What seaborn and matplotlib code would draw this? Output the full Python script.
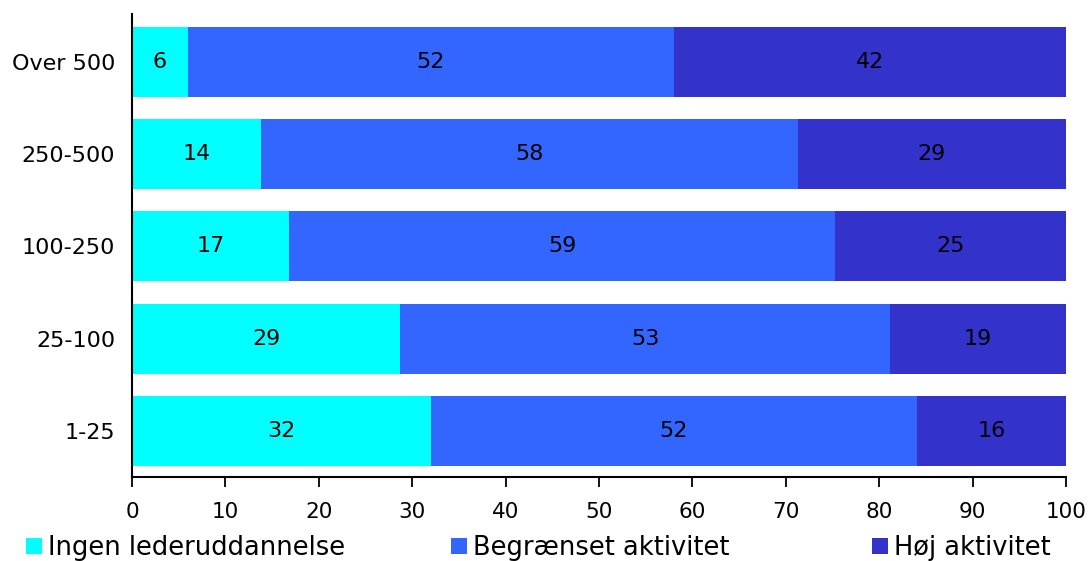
import numpy as np
import pandas as pd
import matplotlib
matplotlib.use("Agg")
import matplotlib.pyplot as plt
from matplotlib.patches import Patch
import seaborn as sns

# Company size groups, top to bottom
groups = ["Over 500", "250-500", "100-250", "25-100", "1-25"]
series_names = ["Ingen lederuddannelse", "Begrænset aktivitet", "Høj aktivitet"]
ingen = [6, 14, 17, 29, 32]
begraenset = [52, 58, 59, 53, 52]
hoej = [42, 29, 25, 19, 16]
colors = ["#00FFFF", "#3366FF", "#3333CC"]
x_ticks = list(range(0, 101, 10))

sns.set_style("white")
plt.rcParams["font.family"] = ["DejaVu Sans"]
plt.rcParams["text.color"] = "black"
plt.rcParams["xtick.color"] = "black"
plt.rcParams["ytick.color"] = "black"

vals = np.array([ingen, begraenset, hoej], dtype=float)
shares = vals / vals.sum(axis=0) * 100  # each bar spans 100 %
cum = np.cumsum(shares, axis=0)

df = pd.DataFrame({"group": groups})
for i in range(3):
    df[f"cum{i}"] = cum[i]

fig = plt.figure(figsize=(10.9, 5.61), dpi=100)
ax = fig.add_axes([132 / 1090, 1 - 477 / 561, (1066 - 132) / 1090, (477 - 14) / 561])

# stacked bars: draw cumulative totals from the back to the front
for i in (2, 1, 0):
    sns.barplot(data=df, x=f"cum{i}", y="group", order=groups, orient="h",
                color=colors[i], saturation=1, width=0.76, ax=ax,
                edgecolor="none", linewidth=0)

# segment value labels
for i in range(3):
    left = cum[i] - shares[i]
    for j, g in enumerate(groups):
        ax.text(left[j] + shares[i][j] / 2, j, f"{vals[i][j]:.0f}",
                ha="center", va="center", fontsize=16, color="black")

ax.set_xlim(0, 100)
ax.set_ylim(len(groups) - 0.5, -0.52)
ax.set_xticks(x_ticks)
ax.set_xlabel("")
ax.set_ylabel("")
ax.tick_params(axis="x", bottom=True, direction="out", length=7, width=1.3,
               labelsize=15.5, pad=11, colors="black")
ax.tick_params(axis="y", left=False, length=0, labelsize=16, pad=12, colors="black")
for side in ("top", "right"):
    ax.spines[side].set_visible(False)
for side in ("left", "bottom"):
    ax.spines[side].set_color("black")
    ax.spines[side].set_linewidth(1.5)

# legend entries spread evenly along the bottom
x_pos = [26 / 1090, 451 / 1090, 872 / 1090]
for name, c, xp in zip(series_names, colors, x_pos):
    fig.legend(handles=[Patch(facecolor=c, edgecolor="none")], labels=[name],
               loc="center left", bbox_to_anchor=(xp, 1 - 548 / 561),
               frameon=False, fontsize=18.5, handlelength=0.62, handleheight=0.62,
               handletextpad=0.22, borderpad=0, borderaxespad=0,
               labelcolor="black")

fig.savefig("out.png", dpi=100)
